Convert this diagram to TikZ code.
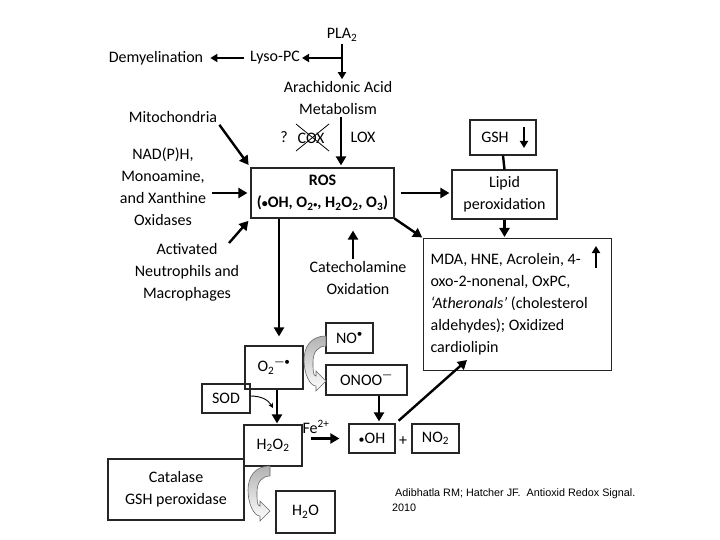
\documentclass[tikz,border=0pt]{standalone}
\usepackage{fontspec}
\setmainfont{Carlito}
\newfontfamily\citefont{Liberation Sans}
\usetikzlibrary{arrows.meta}
\newcommand{\smbul}{{\fontsize{12}{12}\selectfont•}}
\begin{document}
\begin{tikzpicture}[x=1pt,y=-1pt,
  every node/.style={font=\fontsize{16}{22}\selectfont, inner sep=2pt, align=center},
  box/.style={draw=black!85, line width=1.2pt, inner sep=2pt, align=center},
  arr/.style={line width=2.4pt, -{Triangle[length=9pt,width=10pt]}},
  arrs/.style={line width=1.8pt, -{Triangle[length=7pt,width=8pt]}},
  thinarr/.style={line width=0.9pt, -{Stealth[length=5pt,width=5pt]}},
  citation/.style={font=\citefont\fontsize{10.8}{15}\selectfont, align=left, inner sep=0pt},
  uturn/.pic={
    \shade[top color=gray!60, bottom color=white, draw=gray!80!black, line width=0.6pt]
      (0,0) .. controls (-16,0) and (-22,12) .. (-22,24)
      .. controls (-22,38) and (-16,50) .. (-10,50) -- (-10,55) -- (0,45) -- (-10,35) -- (-10,40)
      .. controls (-13,40) and (-13,34) .. (-13,26)
      .. controls (-13,16) and (-8,10) .. (0,10) -- cycle;
  }
]
\useasboundingbox (0,0) rectangle (720,540);

% text labels
\node (pla) at (342,35) {PLA\textsubscript{2}};
\node (lyso) at (275,58) {Lyso-PC};
\node (demy) at (156,58) {Demyelination};
\node (aa) at (338,98) {Arachidonic Acid\\Metabolism};
\node (q) at (284,137) {?};
\node (cox) at (311,138) {COX};
\node (lox) at (363,137) {LOX};
\node (mito) at (173,117) {Mitochondria};
\node (nad) at (163,187) {NAD(P)H,\\Monoamine,\\and Xanthine\\Oxidases};
\node (act) at (187,272) {Activated\\Neutrophils and\\Macrophages};
\node (catox) at (358,278) {Catecholamine\\Oxidation};
\node (fe) at (316,427) {Fe\textsuperscript{2+}};
\node (plus) at (403,441) {+};

% boxes
\node[box, minimum width=143pt, minimum height=50pt] (ros) at (322.5,193)
  {\textbf{ROS}\\\textbf{(\smbul OH, O\textsubscript{2}{\footnotesize•}, H\textsubscript{2}O\textsubscript{2}, O\textsubscript{3})}};
\node[box, minimum width=66pt, minimum height=35pt] (gsh) at (503,137.5) {GSH\hspace{16pt}};
\node[box, minimum width=105pt, minimum height=49pt] (lipid) at (504.5,194.5) {Lipid\\peroxidation};
\node[box, anchor=north west, text width=174pt, inner xsep=7pt, minimum height=132pt, align=flush left] (mda) at (423,238)
  {MDA, HNE, Acrolein, 4-\\oxo-2-nonenal, OxPC,\\\textit{‘Atheronals’} (cholesterol\\aldehydes); Oxidized\\cardiolipin};
\node[box, minimum width=58pt, minimum height=43pt] (o2) at (274,367.5) {O\textsubscript{2}\textsuperscript{—•}};
\node[box, minimum width=47pt, minimum height=30pt] (no) at (349.5,338) {NO\textsuperscript{•}};
\node[box, minimum width=81pt, minimum height=30pt] (onoo) at (366.5,380) {ONOO\textsuperscript{—}};
\node[box, minimum width=48pt, minimum height=29pt] (sod) at (226,398.5) {SOD};
\node[box, minimum width=58pt, minimum height=41pt] (h2o2) at (273,445.5) {H\textsubscript{2}O\textsubscript{2}};
\node[box, minimum width=46pt, minimum height=29pt] (oh) at (372,438.5) {\smbul OH};
\node[box, minimum width=47pt, minimum height=29pt] (no2) at (435.5,438.5) {NO\textsubscript{2}};
\node[box, minimum width=136pt, minimum height=61pt] (catal) at (176,489.5) {Catalase\\GSH peroxidase};
\node[box, minimum width=59pt, minimum height=42pt] (h2o) at (305.5,512) {H\textsubscript{2}O};

\node[citation, anchor=west] (cite) at (392,500.5) {\hspace{3pt}Adibhatla RM; Hatcher JF.\ \ Antioxid Redox Signal.\\2010};

% COX crossed out
\draw[line width=0.8pt] (296,124) -- (329,151) (296,151) -- (329,124);

% free-end coordinates
\coordinate (actS) at (229,243);
\coordinate (sodtip) at (273,408);
\coordinate (mdatip) at (467,360);
\coordinate (gshA) at (524,127);
\coordinate (gshB) at (524,148);
\coordinate (mdaA) at (596,268);
\coordinate (mdaB) at (596,246);

% connectors
\draw[arrs] (pla.south) -- (pla.south |- aa.north);
\draw[arrs] (pla.south |- lyso.east) -- (lyso.east);
\draw[arrs, shorten <=4pt, shorten >=5pt] (lyso.west) -- (demy.east);
\draw[arr, shorten >=2pt] ([xshift=3pt]aa.south) -- ([xshift=3pt]aa.south |- ros.north);
\draw[arr, shorten >=3pt] (mito.south east) -- (ros.north west);
\draw[arr, shorten <=4pt, shorten >=3pt] (nad.east |- ros.west) -- (ros.west);
\draw[arr, shorten >=3pt] (actS) -- (ros.south west);
\draw[arr, shorten >=12pt] ([xshift=-5pt]catox.north) -- ([xshift=-5pt]catox.north |- ros.south);
\draw[arr, shorten <=6pt, shorten >=2pt] (ros.east) -- (ros.east -| lipid.west);
\draw[arr, shorten >=1pt] (ros.south east) -- (mda.north west);
\draw[line width=2.4pt] (gsh.south) -- (lipid.north);
\draw[arrs] (gshA) -- (gshB);
\draw[arr, shorten >=1pt] (lipid.south) -- (lipid.south |- mda.north);
\draw[arrs] (mdaA) -- (mdaB);
\draw[arr, shorten >=9pt] ([xshift=5pt]o2.north |- ros.south) -- ([xshift=5pt]o2.north);
\draw[arr, shorten >=1pt] ([xshift=3pt]o2.south) -- ([xshift=3pt]o2.south |- h2o2.north);
\draw[thinarr] ([yshift=2.5pt]sod.east) to[out=0,in=120] (sodtip);
\draw[arr, shorten >=2pt] ([xshift=7pt]oh.north |- onoo.south) -- ([xshift=7pt]oh.north);
\draw[arr, shorten <=8pt, shorten >=9pt] (h2o2.east |- oh.west) -- (oh.west);
\draw[arr, shorten <=4pt] (oh.north east) -- (mdatip);

% gray U-turn arrows
\pic at (326,336) {uturn};
\pic at (270,466) {uturn};
\end{tikzpicture}
\end{document}
